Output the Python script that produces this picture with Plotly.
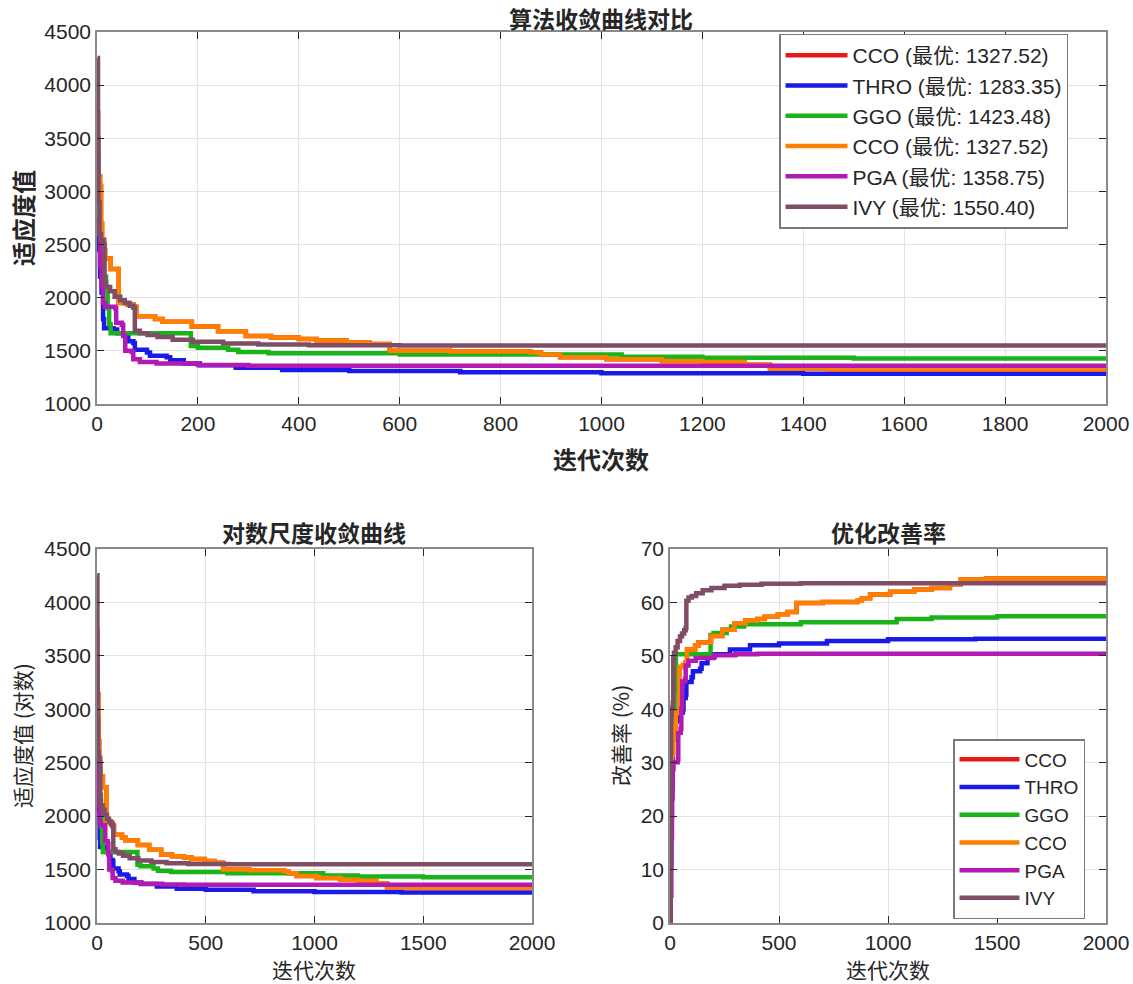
import plotly.graph_objects as go

# algorithm names and best fitness shown in the legend
names = ["CCO", "THRO", "GGO", "CCO", "PGA", "IVY"]
best = [1327.52, 1283.35, 1423.48, 1327.52, 1358.75, 1550.40]

# convergence data (iteration breakpoints, fitness, improvement %)
cco_iter = [1, 2, 6, 8, 10, 14, 16, 27, 43, 60, 72, 78, 115, 130, 188, 240, 295, 345, 400, 435,
            495, 540, 580, 700, 860, 880, 918, 1010, 1120, 1200, 1284, 1334, 1450, 2000]
cco_fit = [3740, 3140, 3050, 2700, 2550, 2450, 2370, 2270, 1950, 1935, 1915, 1825, 1800, 1775, 1730,
           1685, 1640, 1625, 1612, 1598, 1580, 1565, 1500, 1494, 1485, 1465, 1440, 1420, 1405, 1395,
           1370, 1335, 1327.52, 1327.52]
cco_imp = [0, 16.0, 18.4, 27.8, 31.8, 34.5, 36.6, 39.3, 47.9, 48.3, 48.8, 51.2, 51.9, 52.5, 53.7,
           54.9, 56.1, 56.6, 56.9, 57.3, 57.8, 58.2, 59.9, 60.1, 60.3, 60.8, 61.5, 62.0, 62.4, 62.7,
           63.4, 64.3, 64.5, 64.5]

thro_iter = [1, 3, 6, 9, 12, 14, 33, 40, 59, 62, 72, 75, 99, 105, 138, 145, 172, 204, 275, 367,
             500, 720, 1000, 1400, 2000]
thro_fit = [2748, 2450, 2200, 2050, 1800, 1712, 1700, 1665, 1650, 1590, 1575, 1510, 1485, 1455, 1440,
            1412, 1380, 1365, 1342, 1320, 1310, 1298, 1290, 1285, 1283.35]
thro_imp = [0, 10.8, 19.9, 25.4, 34.5, 37.7, 38.1, 39.4, 40.0, 42.1, 42.7, 45.1, 46.0, 47.1, 47.6,
            48.6, 49.8, 50.3, 51.2, 52.0, 52.3, 52.8, 53.1, 53.2, 53.3]

ggo_iter = [1, 3, 5, 7, 10, 18, 21, 24, 27, 183, 186, 200, 260, 280, 340, 600, 1040, 1200, 1500, 2000]
ggo_fit = [3349, 3000, 2600, 2300, 2200, 2100, 1900, 1750, 1665, 1665, 1545, 1530, 1510, 1490, 1478,
           1465, 1445, 1435, 1428, 1423.48]
ggo_imp = [0, 10.4, 22.4, 31.3, 34.3, 37.3, 43.3, 47.7, 50.3, 50.3, 53.9, 54.3, 54.9, 55.5, 55.9,
           56.3, 56.9, 57.2, 57.4, 57.5]

pga_iter = [1, 3, 6, 9, 12, 16, 36, 38, 49, 52, 56, 69, 72, 85, 118, 200, 300, 400, 2000]
pga_fit = [2739, 2600, 2300, 2100, 1950, 1915, 1900, 1765, 1745, 1640, 1500, 1490, 1420, 1395, 1380,
           1367, 1360, 1358.75, 1358.75]
pga_imp = [0, 5.1, 16.0, 23.3, 28.8, 30.1, 30.6, 35.6, 36.3, 40.1, 45.2, 45.6, 48.2, 49.1, 49.6,
           50.1, 50.3, 50.4, 50.4]

ivy_iter = [1, 2, 3, 5, 8, 13, 15, 18, 26, 35, 46, 55, 65, 72, 75, 85, 100, 120, 150, 190, 250,
            320, 420, 600, 2000]
ivy_fit = [4255, 3500, 2900, 2600, 2540, 2500, 2150, 2100, 2060, 2010, 1975, 1950, 1925, 1905, 1690,
           1665, 1650, 1630, 1605, 1585, 1570, 1560, 1553, 1550.4, 1550.4]
ivy_imp = [0, 17.7, 31.8, 38.9, 40.3, 41.2, 49.5, 50.6, 51.6, 52.8, 53.6, 54.2, 54.8, 55.2, 60.3,
           60.9, 61.2, 61.7, 62.3, 62.7, 63.1, 63.3, 63.5, 63.6, 63.6]

series = [(cco_iter, cco_fit, cco_imp), (thro_iter, thro_fit, thro_imp), (ggo_iter, ggo_fit, ggo_imp),
          (cco_iter, cco_fit, cco_imp), (pga_iter, pga_fit, pga_imp), (ivy_iter, ivy_fit, ivy_imp)]
colors = ["#E6191A", "#1A1AE6", "#1AB31A", "#FF8000", "#B31AB3", "#804D66"]

FONT = "Liberation Sans, Arial, Noto Sans CJK SC"
CJK = "Noto Sans CJK SC, Liberation Sans"
TXT = "#262626"
W, H = 1133, 984

fig = go.Figure()
for i, (it, fit, imp) in enumerate(series):
    line = dict(color=colors[i], width=4.5, shape="hv")
    fig.add_trace(go.Scatter(x=it, y=fit, mode="lines", line=line, xaxis="x", yaxis="y",
                             name=f"{names[i]} (最优: {best[i]:.2f})", legend="legend"))
    fig.add_trace(go.Scatter(x=it, y=fit, mode="lines", line=line, xaxis="x2", yaxis="y2",
                             showlegend=False))
    fig.add_trace(go.Scatter(x=it, y=imp, mode="lines", line=line, xaxis="x3", yaxis="y3",
                             name=names[i], legend="legend2"))


def ax(domain, anchor, rng, dtick):
    return dict(domain=domain, anchor=anchor, range=rng, dtick=dtick, showgrid=True,
                gridcolor="#e3e3e3", gridwidth=1, zeroline=False, showline=True,
                linecolor="#8a8a8a", linewidth=1.5, mirror="ticks", ticks="inside",
                ticklen=7, tickcolor="#262626", automargin=False,
                tickfont=dict(family=FONT, size=21, color=TXT))


def px(x):
    return x / W


def py(y):
    return 1 - y / H


fig.update_layout(
    width=W, height=H, margin=dict(l=0, r=0, t=0, b=0, autoexpand=False),
    paper_bgcolor="white", plot_bgcolor="white",
    xaxis=ax([px(97), px(1106)], "y", [0, 2000], 200),
    yaxis=ax([py(404), py(32)], "x", [1000, 4500], 500),
    xaxis2=ax([px(97), px(532)], "y2", [0, 2000], 500),
    yaxis2=ax([py(923), py(549)], "x2", [1000, 4500], 500),
    xaxis3=ax([px(670), px(1106)], "y3", [0, 2000], 500),
    yaxis3=ax([py(923), py(549)], "x3", [0, 70], 10),
    legend=dict(x=px(779), y=py(131), xanchor="left", yanchor="middle", bgcolor="white",
                bordercolor="#7a7a7a", borderwidth=1.5, font=dict(family=FONT, size=21, color=TXT),
                tracegroupgap=0, itemwidth=62),
    legend2=dict(x=px(953), y=py(829), xanchor="left", yanchor="middle", bgcolor="white",
                 bordercolor="#7a7a7a", borderwidth=1.5, font=dict(family=FONT, size=19, color=TXT),
                 tracegroupgap=0, itemwidth=60),
)

labels = [
    ("算法收敛曲线对比", 601, 18, 0, True, 23),
    ("迭代次数", 601, 458, 0, True, 24),
    ("适应度值", 22, 218, -90, True, 24),
    ("对数尺度收敛曲线", 314, 532, 0, True, 23),
    ("迭代次数", 314, 969, 0, False, 21),
    ("适应度值 (对数)", 22, 736, -90, False, 21),
    ("优化改善率", 888, 532, 0, True, 23),
    ("迭代次数", 888, 969, 0, False, 21),
    ("改善率 (%)", 620, 736, -90, False, 21),
]
for text, x, y, ang, bold, size in labels:
    fig.add_annotation(text=text, x=px(x), y=py(y), xref="paper", yref="paper",
                       xanchor="center", yanchor="middle", showarrow=False, textangle=ang,
                       font=dict(family=CJK, size=size, color=TXT,
                                 weight="bold" if bold else "normal"))

# page body has a default 8px margin; remove it so the figure sits at the window origin
fig.write_html("out.html", config={"displayModeBar": False},
               post_script="document.body.style.margin='0';document.body.style.overflow='hidden';")
